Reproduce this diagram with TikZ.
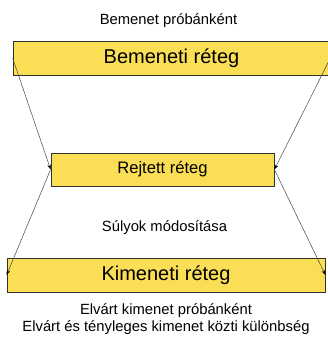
\documentclass[tikz,border=0pt]{standalone}
\usepackage{fontspec}
\setmainfont{Liberation Sans}
\usetikzlibrary{arrows.meta}
\definecolor{layerfill}{RGB}{250,222,85}
\definecolor{layerdraw}{RGB}{50,50,50}
\definecolor{linkcol}{RGB}{70,70,70}
\tikzset{
  layer/.style={draw=layerdraw, line width=0.8pt, fill=layerfill, rectangle, inner sep=0pt},
  lbl/.style={inner sep=0pt, font=\fontsize{14.8pt}{17pt}\selectfont, align=center},
  link/.style={draw=linkcol, line width=0.5pt, -{Stealth[length=5pt,width=3.5pt,color=black]}}
}
\begin{document}
\begin{tikzpicture}[x=1pt,y=-1pt]
\useasboundingbox (0,0) rectangle (328,343);
\node[lbl] (top) at (168.5,21) {Bemenet próbánként};
\node[layer, minimum width=317pt, minimum height=34pt, font=\fontsize{20pt}{24pt}\selectfont] (in) at (171.5,58) {Bemeneti réteg};
\node[layer, minimum width=223pt, minimum height=33pt, font=\fontsize{16.6pt}{20pt}\selectfont] (hid) at (162.5,169.5) {Rejtett réteg};
\node[lbl] (mod) at (164.5,228) {Súlyok módosítása};
\node[layer, minimum width=318pt, minimum height=34pt, font=\fontsize{20pt}{24pt}\selectfont] (out) at (166,275) {Kimeneti réteg};
\node[lbl] (bot) at (166,319) {Elvárt kimenet próbánként\\Elvárt és tényleges kimenet közti különbség};
\draw[link] (in.west) -- (hid.west);
\draw[link] (in.east) -- (hid.east);
\draw[link] (hid.west) -- (out.west);
\draw[link] (hid.east) -- (out.east);
\end{tikzpicture}
\end{document}
